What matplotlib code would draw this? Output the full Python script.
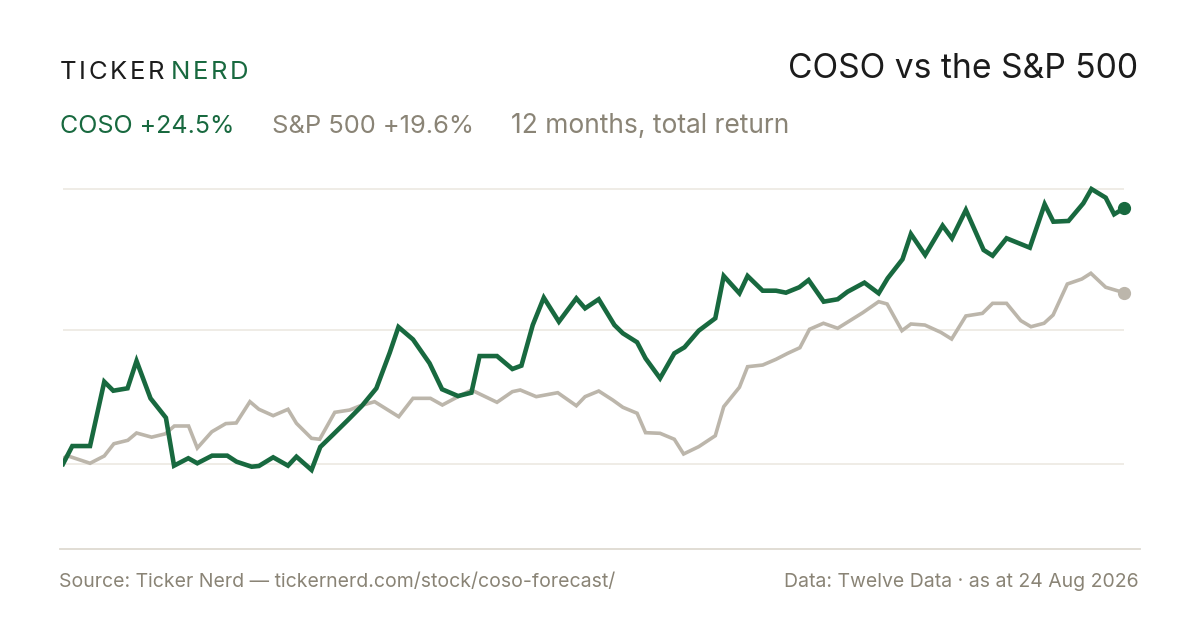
import matplotlib
matplotlib.use("Agg")
import matplotlib.pyplot as plt
from matplotlib.lines import Line2D

# days since 24 Aug 2025, total return in %
coso_days = [0, 3.2, 9.3, 14.2, 17.3, 22.2, 25.3, 30.1, 35.4, 38.2, 43.1, 46.2, 51.3, 56.5,
             59.7, 64.9, 67.4, 72.3, 77.4, 80.3, 85.5, 88.5, 93.1, 98.0, 102.8, 107.8, 112.4,
             115.4, 120.4, 126.1, 130.4, 135.9, 140.5, 143.3, 149.3, 154.6, 157.7, 161.6,
             165.4, 170.6, 176.6, 179.6, 184.3, 189.7, 192.6, 197.5, 200.4, 205.4, 210.3,
             213.8, 218.7, 224.4, 227.3, 232.7, 235.5, 240.7, 245.3, 248.7, 253.3, 256.5,
             261.7, 266.5, 269.9, 275.7, 280.6, 283.7, 288.8, 291.7, 296.6, 302.6, 305.8,
             310.6, 316.7, 319.8, 324.6, 332.6, 337.7, 340.7, 345.9, 351.0, 353.8, 358.7,
             361.6, 365]
coso_ret = [0.0, 1.72, 1.72, 7.88, 7.02, 7.25, 9.87, 6.29, 4.43, -0.16, 0.55, 0.07, 0.80, 0.80,
            0.22, -0.26, -0.19, 0.64, -0.16, 0.70, -0.57, 1.63, 2.87, 4.21, 5.56, 7.25, 10.66,
            13.12, 11.93, 9.65, 7.16, 6.51, 6.83, 10.34, 10.34, 9.10, 9.42, 13.31, 15.93,
            13.63, 15.87, 14.91, 15.78, 13.31, 12.52, 11.66, 10.12, 8.21, 10.60, 11.18, 12.77,
            13.96, 18.01, 16.35, 18.01, 16.60, 16.60, 16.41, 16.93, 17.62, 15.55, 15.78,
            16.50, 17.37, 16.35, 17.79, 19.61, 22.03, 20.02, 22.83, 21.62, 24.33, 20.50,
            19.95, 21.62, 20.72, 24.88, 23.21, 23.28, 24.97, 26.34, 25.51, 23.92, 24.5]

spx_days = [0, 1.4, 9.3, 14.2, 17.5, 22.3, 25.3, 30.5, 35.2, 38.3, 43.2, 46.2, 51.2, 56.0,
            59.6, 64.3, 67.4, 72.3, 77.4, 80.3, 85.5, 88.3, 93.5, 98.6, 102.1, 107.2, 115.5,
            120.4, 126.4, 130.5, 135.9, 140.5, 149.3, 154.6, 157.3, 162.8, 170.2, 176.6,
            179.6, 184.3, 189.1, 192.6, 197.5, 200.4, 205.4, 210.3, 213.5, 218.7, 224.4,
            227.3, 232.7, 235.5, 240.7, 245.3, 249.3, 253.5, 256.8, 261.6, 266.5, 275.1,
            280.6, 283.5, 288.6, 291.7, 296.5, 302.0, 305.7, 310.6, 316.3, 319.8, 324.6,
            329.5, 333.0, 337.5, 340.6, 345.5, 350.5, 353.6, 358.7, 365]
spx_ret = [0.5, 0.80, 0.07, 0.77, 1.94, 2.27, 2.97, 2.57, 2.89, 3.64, 3.64, 1.53, 3.09, 3.87,
           3.93, 5.97, 5.24, 4.63, 5.24, 3.90, 2.46, 2.37, 4.95, 5.17, 5.56, 5.97, 4.53, 6.29,
           6.29, 5.65, 6.45, 7.09, 5.91, 6.93, 7.09, 6.45, 6.83, 5.58, 6.45, 6.99, 6.13, 5.43,
           4.86, 3.00, 2.94, 2.37, 0.96, 1.66, 2.71, 5.49, 7.35, 9.32, 9.48, 10.03, 10.60,
           11.14, 12.90, 13.48, 13.00, 14.49, 15.55, 15.33, 12.77, 13.41, 13.31, 12.61,
           11.97, 14.18, 14.43, 15.39, 15.39, 13.73, 13.15, 13.48, 14.27, 17.24, 17.72,
           18.27, 16.93, 16.41]

grid_levels = [0, 12.84, 26.3]

GREEN = "#18693f"
GREY_LINE = "#bcb6ab"
GREY_TEXT = "#8a8476"
DARK = "#1c1c1c"

plt.rcParams["font.family"] = ["Inter", "DejaVu Sans"]

W, H = 1200, 630
fig = plt.figure(figsize=(12, 6.3), dpi=100)
fig.patch.set_facecolor("white")


def fx(px):
    return px / W


def fy(py):
    return 1 - py / H


# plot area: x 63..1124 px, y 175..505 px
ax = fig.add_axes([fx(63), fy(505), (1124 - 63) / W, 330 / H])
ax.set_xlim(0, 365)
ax.set_ylim((464 - 505) / 10.44, (464 - 175) / 10.44)
ax.axis("off")

for g in grid_levels:
    ax.axhline(g, color="#ece9e2", lw=1.2, zorder=1)

ax.plot(spx_days, spx_ret, color=GREY_LINE, lw=2.6, solid_joinstyle="miter", zorder=2)
ax.plot(coso_days, coso_ret, color=GREEN, lw=3.3, solid_joinstyle="miter", zorder=3)
ax.plot(spx_days[-1], spx_ret[-1], "o", color=GREY_LINE, ms=8.5, clip_on=False, zorder=4)
ax.plot(coso_days[-1], coso_ret[-1], "o", color=GREEN, ms=8.5, clip_on=False, zorder=4)

# divider above the footer
fig.add_artist(Line2D([fx(60), fx(1140)], [fy(549), fy(549)], color="#dedad1", lw=1.3))

# brand with letter spacing
renderer = fig.canvas.get_renderer()


def spaced(text, x, y, color, size, track):
    for ch in text:
        t = fig.text(fx(x), fy(y), ch, color=color, fontsize=size, va="baseline", ha="left")
        bb = t.get_window_extent(renderer=renderer)
        x += bb.width + track
    return x


x_end = spaced("TICKER", 60, 79, DARK, 18.5, 2.6)
spaced("NERD", x_end + 4, 79, GREEN, 18.5, 2.6)

fig.text(fx(1138), fy(78), "COSO vs the S&P 500", color=DARK, fontsize=24.2,
         ha="right", va="baseline")

fig.text(fx(60), fy(133), "COSO +24.5%", color=GREEN, fontsize=18, va="baseline")
fig.text(fx(272), fy(133), "S&P 500 +19.6%", color=GREY_TEXT, fontsize=18.4, va="baseline")
fig.text(fx(511), fy(133), "12 months, total return", color=GREY_TEXT, fontsize=19, va="baseline")

fig.text(fx(59), fy(587), "Source: Ticker Nerd \u2014 tickernerd.com/stock/coso-forecast/",
         color=GREY_TEXT, fontsize=14, va="baseline")
fig.text(fx(1139), fy(587), "Data: Twelve Data \u00b7 as at 24 Aug 2026",
         color=GREY_TEXT, fontsize=14, va="baseline", ha="right")

fig.savefig("out.png", dpi=100, facecolor="white")
